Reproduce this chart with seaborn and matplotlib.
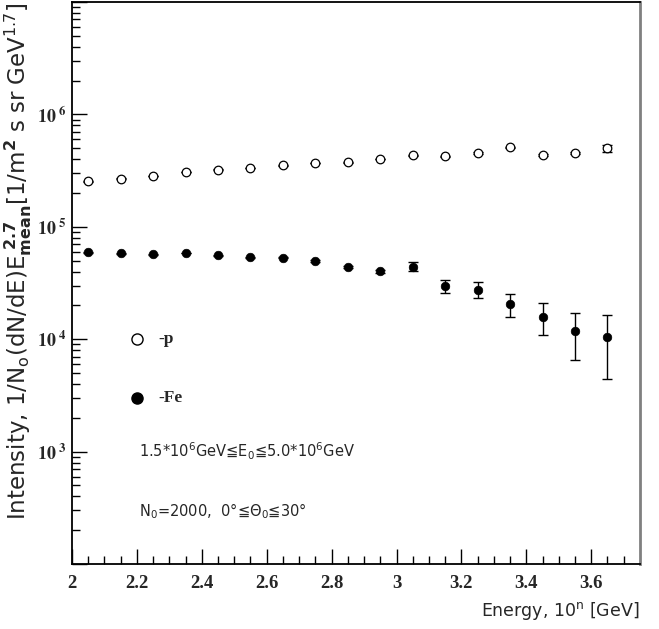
import numpy as np
import pandas as pd
import seaborn as sns
from matplotlib import pyplot
from matplotlib.ticker import FixedLocator, LogLocator, NullFormatter, FixedFormatter

# data
energy = [2.05, 2.15, 2.25, 2.35, 2.45, 2.55, 2.65, 2.75, 2.85,
          2.95, 3.05, 3.15, 3.25, 3.35, 3.45, 3.55, 3.65]
proton = [2.55e5, 2.69e5, 2.84e5, 3.08e5, 3.23e5, 3.34e5, 3.53e5, 3.70e5, 3.75e5,
          4.01e5, 4.35e5, 4.26e5, 4.54e5, 5.09e5, 4.33e5, 4.57e5, 5.02e5]
proton_err = [0.02e5, 0.02e5, 0.02e5, 0.02e5, 0.02e5, 0.02e5, 0.02e5, 0.02e5, 0.03e5,
              0.03e5, 0.04e5, 0.04e5, 0.05e5, 0.06e5, 0.07e5, 0.08e5, 0.35e5]
iron = [5.93e4, 5.81e4, 5.69e4, 5.85e4, 5.61e4, 5.35e4, 5.31e4, 4.96e4, 4.36e4,
        4.01e4, 4.42e4, 2.99e4, 2.76e4, 2.05e4, 1.59e4, 1.18e4, 1.04e4]
iron_err = [0.05e4, 0.05e4, 0.05e4, 0.05e4, 0.06e4, 0.06e4, 0.07e4, 0.08e4, 0.1e4,
            0.15e4, 0.4e4, 0.4e4, 0.45e4, 0.48e4, 0.51e4, 0.52e4, 0.6e4]

x_major = [2.0, 2.2, 2.4, 2.6, 2.8, 3.0, 3.2, 3.4, 3.6]
x_labels = ['2', '2.2', '2.4', '2.6', '2.8', '3', '3.2', '3.4', '3.6']
y_major = [1e2, 1e3, 1e4, 1e5, 1e6, 1e7]
y_labels = ['', r'$\mathbf{10^{\ 3}}$', r'$\mathbf{10^{\ 4}}$', r'$\mathbf{10^{\ 5}}$',
            r'$\mathbf{10^{\ 6}}$', '']

sns.set_style('ticks')
pyplot.rcParams['font.family'] = ['DejaVu Sans']
pyplot.rcParams['mathtext.fontset'] = 'dejavusans'

data_frame = pd.DataFrame({'energy': energy, 'proton': proton, 'iron': iron})

fig = pyplot.figure(figsize=(6.59, 6.29), dpi=100)
ax = fig.add_axes([0.1093, 0.1033, 0.8617, 0.8935])

ax.errorbar(energy, proton, yerr=proton_err, fmt='none', ecolor='black', elinewidth=1.0, capsize=3.5, capthick=1.0)
ax.errorbar(energy, iron, yerr=iron_err, fmt='none', ecolor='black', elinewidth=1.0, capsize=3.5, capthick=1.0)
sns.scatterplot(data=data_frame, x='energy', y='proton', ax=ax, marker='o', s=38,
                facecolor='white', edgecolor='black', linewidth=0.9, zorder=3)
sns.scatterplot(data=data_frame, x='energy', y='iron', ax=ax, marker='o', s=38,
                color='black', edgecolor='black', linewidth=0.5, zorder=3)

ax.set_yscale('log')
ax.set_xlim(2.0, 3.75)
ax.set_ylim(1e2, 1e7)

ax.xaxis.set_major_locator(FixedLocator(x_major))
ax.xaxis.set_major_formatter(FixedFormatter(x_labels))
ax.xaxis.set_minor_locator(FixedLocator(np.arange(2.05, 3.75, 0.05)))
ax.yaxis.set_major_locator(FixedLocator(y_major))
ax.yaxis.set_major_formatter(FixedFormatter(y_labels))
ax.yaxis.set_minor_locator(LogLocator(base=10, subs=np.arange(2, 10)))
ax.yaxis.set_minor_formatter(NullFormatter())

ax.tick_params(axis='both', which='major', direction='in', length=11, width=1.0, color='black')
ax.tick_params(axis='both', which='minor', direction='in', length=5.5, width=1.0, color='black')
ax.tick_params(axis='x', which='major', pad=8)
ax.tick_params(axis='y', which='major', pad=4)
for label in ax.get_xticklabels():
    label.set_family('Liberation Serif')
    label.set_weight('bold')
    label.set_fontsize(13.5)
for label in ax.get_yticklabels():
    label.set_fontsize(13)
    label.set_math_fontfamily('stix')

for side in ['left', 'bottom', 'top']:
    ax.spines[side].set_color('black')
    ax.spines[side].set_linewidth(1.3)
ax.spines['right'].set_color('#808080')
ax.spines['right'].set_linewidth(2.0)

ax.set_xlabel(r'Energy, 10$^{\rm n}$ [GeV]', fontsize=12.5, loc='right', labelpad=6)
ax.set_ylabel(r'Intensity, 1/N$_{\rm o}$(dN/dE)E$_{\mathbf{mean}}^{\ \mathbf{2.7}}$[1/m$^{\mathbf{2}}$ s sr GeV$^{\rm 1.7}$]',
              fontsize=16.5, loc='top', labelpad=2)

# legend drawn in data coordinates like the original
ax.plot([2.2], [1e4], marker='o', markersize=8, markerfacecolor='white', markeredgecolor='black', markeredgewidth=1.0)
ax.plot([2.2], [3e3], marker='o', markersize=8, color='black')
ax.text(2.265, 1e4, '-p', family='Liberation Serif', weight='bold', fontsize=12.5, va='center')
ax.text(2.265, 3e3, '-Fe', family='Liberation Serif', weight='bold', fontsize=12.5, va='center')
ax.text(2.205, 1e3, r'1.5$*$10$^{6}$GeV≦E$_{0}$≦5.0$*$10$^{6}$GeV', fontsize=10.5, va='center')
ax.text(2.205, 10 ** 2.47, r'N$_{0}$=2000,  0°≦Θ$_{0}$≦30°', fontsize=10.5, va='center')

pyplot.savefig('out.png', dpi=100)
pyplot.close(fig)
